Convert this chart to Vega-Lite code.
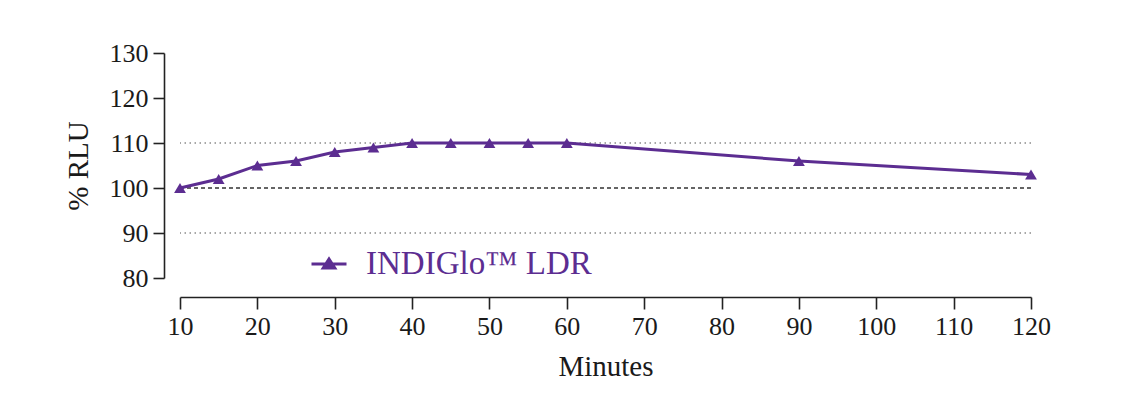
{
  "$schema": "https://vega.github.io/schema/vega-lite/v6.json",
  "width": 851,
  "height": 225,
  "autosize": {"type": "none"},
  "padding": {"left": 180, "top": 53, "right": 104, "bottom": 139},
  "background": "white",
  "datasets": {
    "kinetics": [
      {"minutes": 10, "rlu": 100, "series": "INDIGlo™ LDR"},
      {"minutes": 15, "rlu": 102, "series": "INDIGlo™ LDR"},
      {"minutes": 20, "rlu": 105, "series": "INDIGlo™ LDR"},
      {"minutes": 25, "rlu": 106, "series": "INDIGlo™ LDR"},
      {"minutes": 30, "rlu": 108, "series": "INDIGlo™ LDR"},
      {"minutes": 35, "rlu": 109, "series": "INDIGlo™ LDR"},
      {"minutes": 40, "rlu": 110, "series": "INDIGlo™ LDR"},
      {"minutes": 45, "rlu": 110, "series": "INDIGlo™ LDR"},
      {"minutes": 50, "rlu": 110, "series": "INDIGlo™ LDR"},
      {"minutes": 55, "rlu": 110, "series": "INDIGlo™ LDR"},
      {"minutes": 60, "rlu": 110, "series": "INDIGlo™ LDR"},
      {"minutes": 90, "rlu": 106, "series": "INDIGlo™ LDR"},
      {"minutes": 120, "rlu": 103, "series": "INDIGlo™ LDR"}
    ],
    "dotted": [{"rlu": 90}, {"rlu": 110}],
    "dashed": [{"rlu": 100}]
  },
  "config": {
    "font": "Liberation Serif",
    "view": {"stroke": null},
    "axis": {
      "grid": false,
      "domainColor": "#222222",
      "tickColor": "#222222",
      "domainWidth": 1.6,
      "tickWidth": 1.6,
      "labelColor": "#1a1a1a",
      "titleColor": "#1a1a1a",
      "labelFont": "Liberation Serif",
      "titleFont": "Liberation Serif",
      "labelFontSize": 26,
      "titleFontSize": 29,
      "titleFontWeight": "normal",
      "labelFlush": false
    },
    "axisY": {"offset": 16, "tickSize": 11, "labelPadding": 5, "titlePadding": 16},
    "axisX": {"offset": 19, "tickSize": 12, "labelPadding": 4, "titlePadding": 13},
    "legend": {
      "orient": "none",
      "legendX": 130,
      "legendY": 192,
      "padding": 0,
      "title": null,
      "labelFont": "Liberation Serif",
      "labelFontSize": 33,
      "labelColor": "#5c2d91",
      "labelOffset": 18,
      "labelLimit": 400
    }
  },
  "layer": [
    {
      "data": {"name": "dotted"},
      "mark": {"type": "rule", "color": "#8c8c8c", "strokeWidth": 1.3, "strokeDash": [1.5, 3.5]},
      "encoding": {
        "y": {"field": "rlu", "type": "quantitative", "title": "% RLU", "scale": {"domain": [80, 130], "nice": false}}
      }
    },
    {
      "data": {"name": "dashed"},
      "mark": {"type": "rule", "color": "#333333", "strokeWidth": 1.4, "strokeDash": [4, 3]},
      "encoding": {
        "y": {"field": "rlu", "type": "quantitative", "title": "% RLU", "scale": {"domain": [80, 130], "nice": false}}
      }
    },
    {
      "data": {"name": "kinetics"},
      "mark": {"type": "line", "strokeWidth": 3},
      "encoding": {
        "x": {"field": "minutes", "type": "quantitative", "title": "Minutes", "scale": {"domain": [10, 120], "nice": false}, "axis": {"values": [10, 20, 30, 40, 50, 60, 70, 80, 90, 100, 110, 120]}},
        "y": {"field": "rlu", "type": "quantitative", "title": "% RLU", "scale": {"domain": [80, 130], "nice": false}, "axis": {"values": [80, 90, 100, 110, 120, 130]}},
        "color": {
          "field": "series",
          "type": "nominal",
          "scale": {"range": ["#5c2d91"]},
          "legend": {
            "symbolType": "M-1,0H1M-0.33,0.23L0,-0.29L0.33,0.23Z",
            "symbolSize": 1225,
            "symbolStrokeWidth": 3,
            "symbolFillColor": "#5c2d91",
            "symbolStrokeColor": "#5c2d91",
            "symbolOpacity": 1
          }
        }
      }
    },
    {
      "data": {"name": "kinetics"},
      "mark": {"type": "point", "shape": "triangle-up", "filled": true, "size": 140, "opacity": 1, "color": "#5c2d91"},
      "encoding": {
        "x": {"field": "minutes", "type": "quantitative", "title": "Minutes", "scale": {"domain": [10, 120], "nice": false}, "axis": {"values": [10, 20, 30, 40, 50, 60, 70, 80, 90, 100, 110, 120]}},
        "y": {"field": "rlu", "type": "quantitative", "title": "% RLU", "scale": {"domain": [80, 130], "nice": false}, "axis": {"values": [80, 90, 100, 110, 120, 130]}}
      }
    }
  ]
}
